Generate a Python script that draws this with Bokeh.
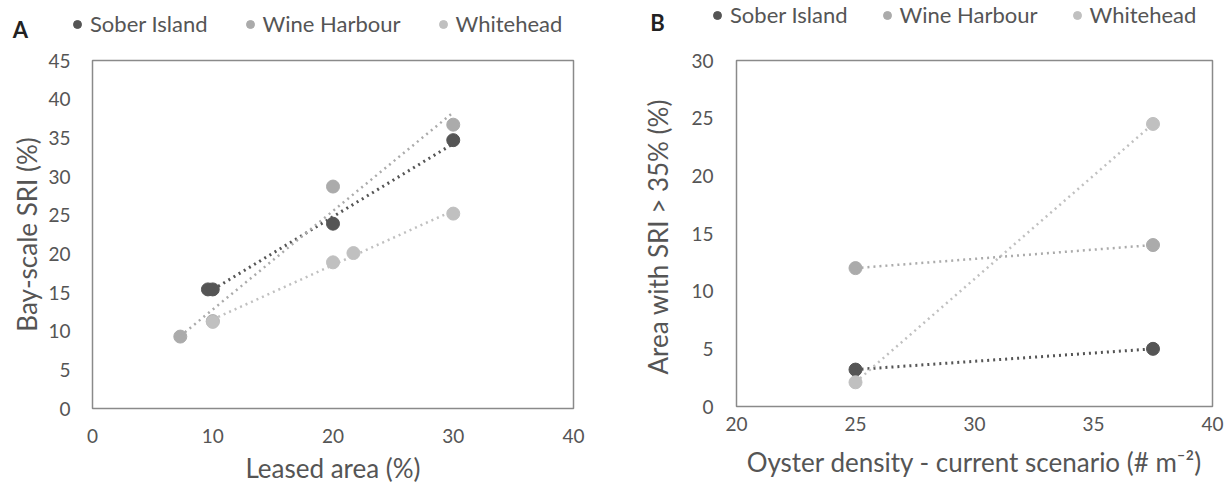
import numpy as np
from bokeh.plotting import figure
from bokeh.layouts import row, column
from bokeh.models import Legend, LegendItem, FixedTicker, Label
from bokeh.embed import file_html
from bokeh.resources import INLINE

# ---------------- data ----------------
series_names = ["Sober Island", "Wine Harbour", "Whitehead"]

# Panel A: leased area (%) vs bay-scale SRI (%)
a_sober_x = [9.6, 10.0, 20.0, 30.0]
a_sober_y = [15.4, 15.4, 23.9, 34.7]
a_wine_x = [7.3, 10.0, 20.0, 30.0]
a_wine_y = [9.3, 11.3, 28.7, 36.7]
a_white_x = [10.0, 20.0, 21.7, 30.0]
a_white_y = [11.2, 18.9, 20.1, 25.2]

# Panel B: oyster density vs area with SRI > 35%
b_sober_x = [25.0, 37.5]
b_sober_y = [3.2, 5.0]
b_wine_x = [25.0, 37.5]
b_wine_y = [12.0, 14.0]
b_white_x = [25.0, 37.5]
b_white_y = [2.1, 24.5]

a_xticks = [0, 10, 20, 30, 40]
a_yticks = [0, 5, 10, 15, 20, 25, 30, 35, 40, 45]
b_xticks = [20, 25, 30, 35, 40]
b_yticks = [0, 5, 10, 15, 20, 25, 30]

colors = ["#555555", "#ababab", "#c0c0c0"]
FONT = "Lato"
TXT = "#555555"


def style(p, xticks, yticks, xlab, ylab, xstand, xlstand, ystand, ylstand):
    p.outline_line_color = "#8a8a8a"
    p.outline_line_width = 1.5
    p.xgrid.visible = False
    p.ygrid.visible = False
    p.xaxis.ticker = FixedTicker(ticks=xticks)
    p.yaxis.ticker = FixedTicker(ticks=yticks)
    p.xaxis.axis_label = xlab
    p.yaxis.axis_label = ylab
    for ax in (p.xaxis, p.yaxis):
        ax.axis_line_color = None
        ax.major_tick_line_color = None
        ax.minor_tick_line_color = None
        ax.major_tick_out = 0
        ax.major_tick_in = 0
        ax.major_label_text_font = FONT
        ax.major_label_text_font_size = "19px"
        ax.major_label_text_color = TXT
        ax.axis_label_text_font = FONT
        ax.axis_label_text_font_size = "26px"
        ax.axis_label_text_font_style = "normal"
        ax.axis_label_text_color = TXT
    p.xaxis.major_label_standoff = xstand
    p.xaxis.axis_label_standoff = xlstand
    p.yaxis.major_label_standoff = ystand
    p.yaxis.axis_label_standoff = ylstand
    p.background_fill_color = "white"
    p.border_fill_color = "white"


def add_series(p, xs, ys, color, lw):
    p.scatter(xs, ys, size=13, color=color, line_color=color)
    k, b = np.polyfit(xs, ys, 1)
    x0, x1 = min(xs), max(xs)
    p.line([x0, x1], [k * x0 + b, k * x1 + b], line_color=color,
           line_width=lw, line_dash="2 4")


# ---------------- header (legends + panel letters) ----------------
hdr = figure(width=1224, height=44, x_range=(0, 1), y_range=(0, 1),
             x_axis_type=None, y_axis_type=None, title=None,
             output_backend="svg", toolbar_location=None,
             min_border_left=0, min_border_right=0,
             min_border_top=0, min_border_bottom=0)
hdr.outline_line_color = None
hdr.xgrid.visible = False
hdr.ygrid.visible = False


def header_legend(series_xy, loc, spacing):
    # proxy renderers (series data lie outside the header's 0..1 ranges)
    rs = [hdr.scatter(x, y, size=13, color=c, line_color=c)
          for (x, y), c in zip(series_xy, colors)]
    items = [LegendItem(label=n, renderers=[r]) for n, r in zip(series_names, rs)]
    leg = Legend(items=items, orientation="horizontal", location=loc,
                 glyph_width=20, glyph_height=20, label_standoff=3,
                 spacing=spacing, padding=0, margin=0,
                 border_line_color=None, background_fill_alpha=0,
                 label_text_font=FONT, label_text_font_size="22px",
                 label_text_color=TXT)
    hdr.add_layout(leg)


def letter(text, x, y):
    hdr.add_layout(Label(x=x, y=y, x_units="screen", y_units="screen",
                         text=text, text_font=FONT, text_font_size="22px",
                         text_font_style="bold", text_color="#222222",
                         text_align="center", text_baseline="middle"))


header_legend([(a_sober_x, a_sober_y), (a_wine_x, a_wine_y), (a_white_x, a_white_y)],
              (67, 7), 32)
header_legend([(b_sober_x, b_sober_y), (b_wine_x, b_wine_y), (b_white_x, b_white_y)],
              (707, 16), 29)
letter("A", 20, 15)
letter("B", 657, 22)

# ---------------- panel A ----------------
pa = figure(frame_width=481, frame_height=348, x_range=(0, 40), y_range=(0, 45),
            output_backend="svg", toolbar_location=None, title=None,
            min_border_left=92, min_border_right=35,
            min_border_top=16, min_border_bottom=82)
style(pa, a_xticks, a_yticks, "Leased area (%)", "Bay-scale SRI (%)", 20, 6, 22, 2)
add_series(pa, a_sober_x, a_sober_y, colors[0], 3)
add_series(pa, a_wine_x, a_wine_y, colors[1], 2.5)
add_series(pa, a_white_x, a_white_y, colors[2], 2.5)

# ---------------- panel B ----------------
pb = figure(frame_width=476, frame_height=346, x_range=(20, 40), y_range=(0, 30),
            output_backend="svg", toolbar_location=None, title=None,
            min_border_left=128, min_border_right=12,
            min_border_top=16, min_border_bottom=84)
style(pb, b_xticks, b_yticks, "Oyster density - current scenario (# m\u207b\u00b2)",
      "Area with SRI > 35%  (%)", 10, 12, 23, 14)
add_series(pb, b_sober_x, b_sober_y, colors[0], 3)
add_series(pb, b_wine_x, b_wine_y, colors[1], 2.5)
add_series(pb, b_white_x, b_white_y, colors[2], 2.5)

layout = column(hdr, row(pa, pb, spacing=0), spacing=0)
open("out.html", "w").write(file_html(layout, INLINE))
